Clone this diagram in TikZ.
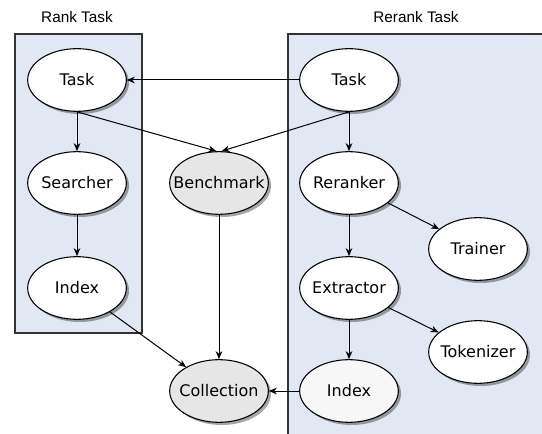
\documentclass[tikz,border=0pt]{standalone}
\usepackage{fontspec}
\setmainfont{DejaVu Sans}
\newfontfamily\titlefont{Liberation Sans}
\usetikzlibrary{arrows.meta,shapes.geometric,shadows}

\definecolor{groupfill}{HTML}{E1E8F3}
\definecolor{sharedfill}{HTML}{E6E6E6}

\tikzset{
  module/.style={ellipse, draw, line width=0.8pt, fill=white,
    minimum width=74pt, minimum height=47pt, inner sep=0pt,
    font=\fontsize{12}{14}\selectfont,
    execute at begin node=\hbox to 0pt\bgroup\hss,
    execute at end node=\hss\egroup,
    drop shadow={shadow xshift=2pt, shadow yshift=-2pt, fill=black, opacity=0.35}},
  shared/.style={module, fill=sharedfill},
  group/.style={draw=black!80, fill=groupfill, line width=0.8pt},
  dep/.style={-{Stealth[length=6pt,width=5pt]}, line width=0.75pt},
  grouptitle/.style={font=\titlefont\fontsize{11.5}{13}\selectfont},
}

\begin{document}
\begin{tikzpicture}[x=0.75pt, y=-0.75pt]
        \useasboundingbox (0,0) rectangle (542,434);

        % Task groups
        \draw[group] (15,34) rectangle (142,333);
        \draw[group] (288,34) rectangle (560,450);
        \node[grouptitle] (ranktitle) at (77,17) {Rank Task};
        \node[grouptitle] (reranktitle) at (416,17) {Rerank Task};

        % Rank side
        \node[module] (ltask) at (77,80) {Task};
        \node[module] (searcher) at (77,183) {Searcher};
        \node[module] (lindex) at (77,288) {Index};

        % Shared modules
        \node[shared] (bench) at (219,183) {Benchmark};
        \node[shared] (coll) at (219,391) {Collection};

        % Rerank side
        \node[module] (rtask) at (349,80) {Task};
        \node[module] (reranker) at (349,183) {Reranker};
        \node[module] (trainer) at (478,249) {Trainer};
        \node[module] (extractor) at (349,288) {Extractor};
        \node[module] (tokenizer) at (478,352) {Tokenizer};
        \node[module, fill=white!97!black] (rindex) at (349,391) {Index};

        % Dependencies
        \draw[dep] (rtask) -- (ltask);
        \draw[dep] (ltask) -- (searcher);
        \draw[dep] (searcher) -- (lindex);
        \draw[dep] (ltask.south) -- ([xshift=-2pt]bench.north);
        \draw[dep] (rtask.south) -- ([xshift=2pt]bench.north);
        \draw[dep] (bench) -- (coll);
        \draw[dep] (lindex) -- (coll);
        \draw[dep] (rindex) -- (coll);
        \draw[dep] (rtask) -- (reranker);
        \draw[dep] (reranker) -- (trainer);
        \draw[dep] (reranker) -- (extractor);
        \draw[dep] (extractor) -- (tokenizer);
        \draw[dep] (extractor) -- (rindex);
\end{tikzpicture}
\end{document}
